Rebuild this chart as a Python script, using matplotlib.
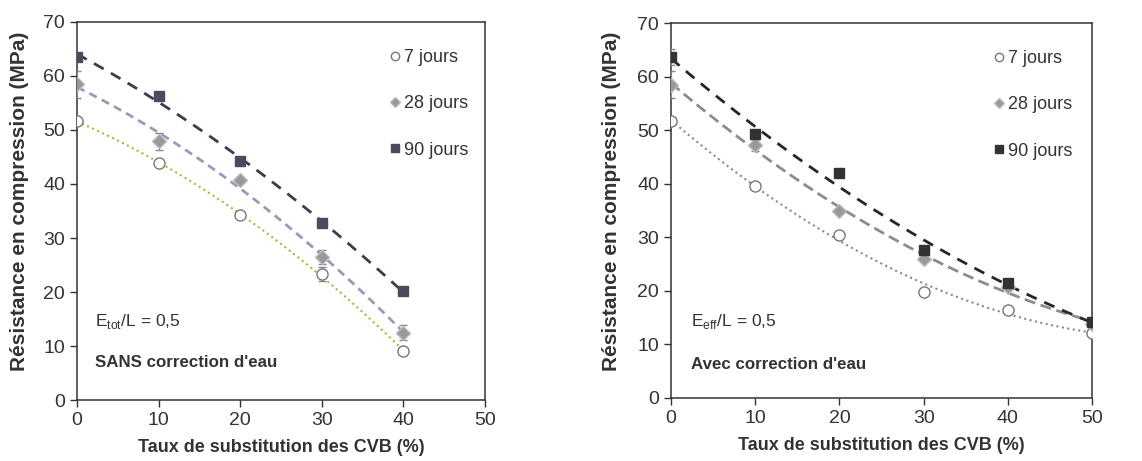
import numpy as np
import matplotlib
matplotlib.use('Agg')
import matplotlib.pyplot as plt

plt.rcParams['font.family'] = ['Liberation Sans', 'DejaVu Sans']

# data - left panel (sans correction)
x_left = [0, 10, 20, 30, 40]
j7_left = [51.7, 43.8, 34.3, 23.3, 9.0]
j28_left = [58.5, 47.9, 40.7, 26.4, 12.5]
j90_left = [63.6, 56.3, 44.2, 32.8, 20.2]
e7_left = [0.4, 0.4, 0.4, 1.3, 0.4]
e28_left = [2.5, 1.6, 0.5, 1.3, 1.3]
e90_left = [0.4, 0.4, 0.4, 0.4, 0.4]

# data - right panel (avec correction)
x_right = [0, 10, 20, 30, 40, 50]
j7_right = [51.7, 39.5, 30.5, 19.7, 16.5, 12.1]
j28_right = [58.5, 47.2, 35.0, 26.0, 20.8, 13.9]
j90_right = [63.6, 49.3, 42.0, 27.6, 21.4, 14.2]
e7_right = [0.4, 0.4, 0.4, 0.4, 0.4, 0.4]
e28_right = [2.5, 1.0, 0.5, 0.5, 0.5, 0.5]
e90_right = [1.5, 0.5, 0.4, 0.4, 0.4, 0.4]

labels = ['7 jours', '28 jours', '90 jours']
xticks = [0, 10, 20, 30, 40, 50]
yticks = [0, 10, 20, 30, 40, 50, 60, 70]

fig = plt.figure(figsize=(11.42, 4.61), dpi=100)
ax1 = fig.add_axes([0.0674, 0.1323, 0.3573, 0.82])
ax2 = fig.add_axes([0.5876, 0.1367, 0.3686, 0.8133])


def trend(ax, x, y, color, ls, lw):
    c = np.polyfit(x, y, 2)
    xs = np.linspace(min(x), max(x), 200)
    ax.plot(xs, np.polyval(c, xs), color=color, ls=ls, lw=lw, zorder=2)


def panel(ax, x, series, errs, line_styles, colors, note_sub, note_bold, note_pos):
    (c7, c28, c90) = colors
    trend(ax, x, series[0], line_styles[0][0], line_styles[0][1], 1.5)
    trend(ax, x, series[1], line_styles[1][0], line_styles[1][1], 2.0)
    trend(ax, x, series[2], line_styles[2][0], line_styles[2][1], 2.0)
    for s, e in zip(series, errs):
        ax.errorbar(x, s, yerr=e, fmt='none', ecolor='#888888', elinewidth=0.8, capsize=3, zorder=3)
    ax.plot(x, series[0], 'o', ms=8, mfc='white', mec='#777777', mew=1.0, ls='none', label=labels[0], zorder=4)
    ax.plot(x, series[1], 'D', ms=7, mfc=c28, mec='#bbbbbb', mew=1.0, ls='none', label=labels[1], zorder=4)
    ax.plot(x, series[2], 's', ms=7.3, mfc=c90, mec=c90, mew=1.0, ls='none', label=labels[2], zorder=4)

    ax.set_xlim(0, 50)
    ax.set_ylim(0, 70)
    ax.set_xticks(xticks)
    ax.set_yticks(yticks)
    ax.tick_params(direction='out', length=5, width=1, colors='#333333', labelsize=14)
    for sp in ax.spines.values():
        sp.set_color('#333333')
        sp.set_linewidth(1.1)
    ax.set_xlabel('Taux de substitution des CVB (%)', fontsize=13, fontweight='bold', color='#333333', labelpad=7)
    ax.set_ylabel('Résistance en compression (MPa)', fontsize=15, fontweight='bold', color='#333333')
    ax.yaxis.set_label_coords(-0.118, 0.525)
    ax.text(note_pos[0], note_pos[1], r'E$_{\mathregular{' + note_sub + r'}}$/L = 0,5', fontsize=12.5,
            color='#333333', va='center')
    ax.text(note_pos[0], note_pos[2], note_bold, fontsize=12.2, fontweight='bold', color='#333333', va='center')
    ax.legend(loc='upper left', bbox_to_anchor=(0.745, 0.952), frameon=False, fontsize=13,
              handlelength=0.6, handletextpad=0.2, labelspacing=1.62, borderpad=0,
              markerscale=0.75, labelcolor='#333333')


panel(ax1, x_left, [j7_left, j28_left, j90_left], [e7_left, e28_left, e90_left],
      [('#b5b23a', ':'), ('#9a9ab8', (0, (3, 2))), ('#3c3c4c', (0, (4, 3)))],
      ('white', '#999999', '#4b4b5e'), 'tot', 'SANS correction d\'eau', (2.2, 14.6, 7.0))
panel(ax2, x_right, [j7_right, j28_right, j90_right], [e7_right, e28_right, e90_right],
      [('#8a8a8a', ':'), ('#8c8c8c', (0, (4, 2))), ('#262626', (0, (4, 3)))],
      ('white', '#999999', '#333333'), 'eff', 'Avec correction d\'eau', (2.4, 14.2, 6.3))

fig.savefig('out.png', dpi=100)
